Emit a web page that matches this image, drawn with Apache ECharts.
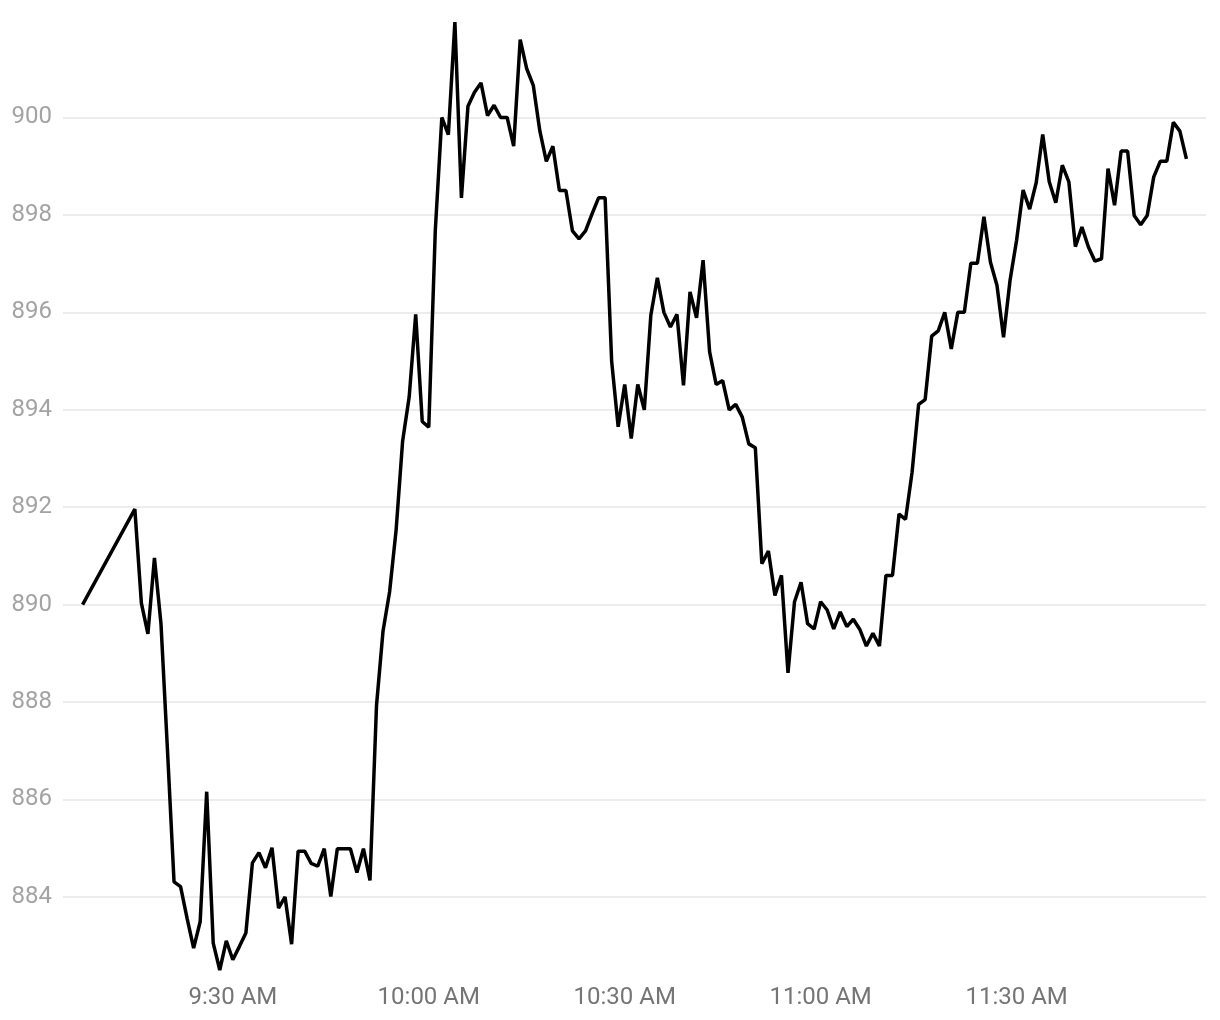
<!DOCTYPE html>
<html>
<head>
<meta charset="utf-8">
<script src="https://cdn.jsdelivr.net/npm/echarts@6/dist/echarts.min.js"></script>
<style>
    html, body { margin: 0; padding: 0; background: #fff; }
    #chart { width: 1220px; height: 1020px; }
</style>
</head>
<body>
<div id="chart"></div>
<script>
// minute stamps of each print (one early print at 9:07, then every minute)
const times = [
    '9:07',
    '9:15', '9:16', '9:17', '9:18', '9:19', '9:20', '9:21', '9:22', '9:23', '9:24',
    '9:25', '9:26', '9:27', '9:28', '9:29', '9:30', '9:31', '9:32', '9:33', '9:34',
    '9:35', '9:36', '9:37', '9:38', '9:39', '9:40', '9:41', '9:42', '9:43', '9:44',
    '9:45', '9:46', '9:47', '9:48', '9:49', '9:50', '9:51', '9:52', '9:53', '9:54',
    '9:55', '9:56', '9:57', '9:58', '9:59', '10:00', '10:01', '10:02', '10:03', '10:04',
    '10:05', '10:06', '10:07', '10:08', '10:09', '10:10', '10:11', '10:12', '10:13', '10:14',
    '10:15', '10:16', '10:17', '10:18', '10:19', '10:20', '10:21', '10:22', '10:23', '10:24',
    '10:25', '10:26', '10:27', '10:28', '10:29', '10:30', '10:31', '10:32', '10:33', '10:34',
    '10:35', '10:36', '10:37', '10:38', '10:39', '10:40', '10:41', '10:42', '10:43', '10:44',
    '10:45', '10:46', '10:47', '10:48', '10:49', '10:50', '10:51', '10:52', '10:53', '10:54',
    '10:55', '10:56', '10:57', '10:58', '10:59', '11:00', '11:01', '11:02', '11:03', '11:04',
    '11:05', '11:06', '11:07', '11:08', '11:09', '11:10', '11:11', '11:12', '11:13', '11:14',
    '11:15', '11:16', '11:17', '11:18', '11:19', '11:20', '11:21', '11:22', '11:23', '11:24',
    '11:25', '11:26', '11:27', '11:28', '11:29', '11:30', '11:31', '11:32', '11:33', '11:34',
    '11:35', '11:36', '11:37', '11:38', '11:39', '11:40', '11:41', '11:42', '11:43', '11:44',
    '11:45', '11:46', '11:47', '11:48', '11:49', '11:50', '11:51', '11:52', '11:53', '11:54',
    '11:55', '11:56'
]

const prices = [
    890.0,
    891.96, 890.03, 889.4, 890.96, 889.61, 887.0, 884.31, 884.21, 883.56, 882.95,
    883.49, 886.16, 883.05, 882.5, 883.1, 882.71, 882.98, 883.26, 884.7, 884.91,
    884.6, 885.01, 883.77, 884.0, 883.03, 884.94, 884.94, 884.69, 884.63, 884.99,
    884.01, 884.99, 884.99, 884.99, 884.5, 884.99, 884.34, 887.93, 889.46, 890.26,
    891.53, 893.36, 894.26, 895.96, 893.76, 893.64, 897.68, 900.0, 899.65, 901.96,
    898.35, 900.23, 900.52, 900.71, 900.04, 900.25, 900.0, 900.0, 899.41, 901.6,
    901.0, 900.66, 899.73, 899.1, 899.41, 898.5, 898.5, 897.67, 897.51, 897.67,
    898.02, 898.35, 898.35, 895.0, 893.65, 894.52, 893.41, 894.52, 894.0, 895.94,
    896.71, 896.0, 895.7, 895.96, 894.5, 896.42, 895.89, 897.07, 895.19, 894.52,
    894.6, 894.0, 894.11, 893.85, 893.3, 893.22, 890.84, 891.1, 890.19, 890.6,
    888.6, 890.06, 890.46, 889.61, 889.5, 890.06, 889.89, 889.5, 889.85, 889.55,
    889.7, 889.49, 889.15, 889.41, 889.15, 890.6, 890.6, 891.86, 891.75, 892.72,
    894.11, 894.21, 895.51, 895.62, 896.0, 895.25, 896.0, 896.0, 897.01, 897.01,
    897.96, 897.03, 896.55, 895.49, 896.66, 897.48, 898.51, 898.12, 898.66, 899.65,
    898.68, 898.25, 899.02, 898.68, 897.35, 897.75, 897.34, 897.05, 897.1, 898.95,
    898.2, 899.31, 899.31, 897.99, 897.8, 897.99, 898.78, 899.1, 899.1, 899.9,
    899.72, 899.15
]

// tick labels on the time axis
const timeTicks = ['9:30', '10:00', '10:30', '11:00', '11:30']

// visible window of the time axis
const axisStart = '9:04'
const axisEnd = '11:59'

const toDate = (hm) => {
    const [h, m] = hm.split(':').map(Number)
    return new Date(2024, 0, 2, h, m).getTime()
}

const fmtTime = (v) => {
    const d = new Date(v)
    const h = d.getHours()
    const h12 = h % 12 === 0 ? 12 : h % 12
    const mm = String(d.getMinutes()).padStart(2, '0')
    return h12 + ':' + mm + (h < 12 ? ' AM' : ' PM')
}

const seriesData = times.map((t, i) => [toDate(t), prices[i]])

const chart = echarts.init(document.getElementById('chart'))

chart.setOption({
    animation: false,
    backgroundColor: '#ffffff',
    grid: {
        left: 63,
        right: 14,
        top: 22,
        bottom: 50,
        containLabel: false,
    },
    xAxis: {
        type: 'value',
        min: toDate(axisStart),
        max: toDate(axisEnd),
        axisLine: { show: false },
        axisTick: { show: false },
        splitLine: { show: false },
        axisLabel: {
            customValues: timeTicks.map(toDate),
            formatter: fmtTime,
            color: '#757575',
            fontFamily: 'Roboto',
            fontSize: 24,
            margin: 16,
            hideOverlap: false,
        },
    },
    yAxis: {
        type: 'value',
        min: 'dataMin',
        max: 'dataMax',
        splitNumber: 10,
        axisLine: { show: false },
        axisTick: { show: false },
        axisLabel: {
            formatter: (v) => (Math.abs(v % 2) < 1e-6 ? String(v) : ''),
            color: '#a3a3a3',
            fontFamily: 'Roboto',
            fontSize: 24,
            margin: 11,
        },
        splitLine: {
            show: true,
            showMinLine: false,
            showMaxLine: false,
            lineStyle: { color: '#e6e6e6', width: 1.5 },
        },
    },
    series: [
        {
            type: 'line',
            data: seriesData,
            showSymbol: false,
            smooth: false,
            lineStyle: { color: '#000000', width: 3.5 },
            itemStyle: { color: '#000000' },
        },
    ],
})
</script>
</body>
</html>
